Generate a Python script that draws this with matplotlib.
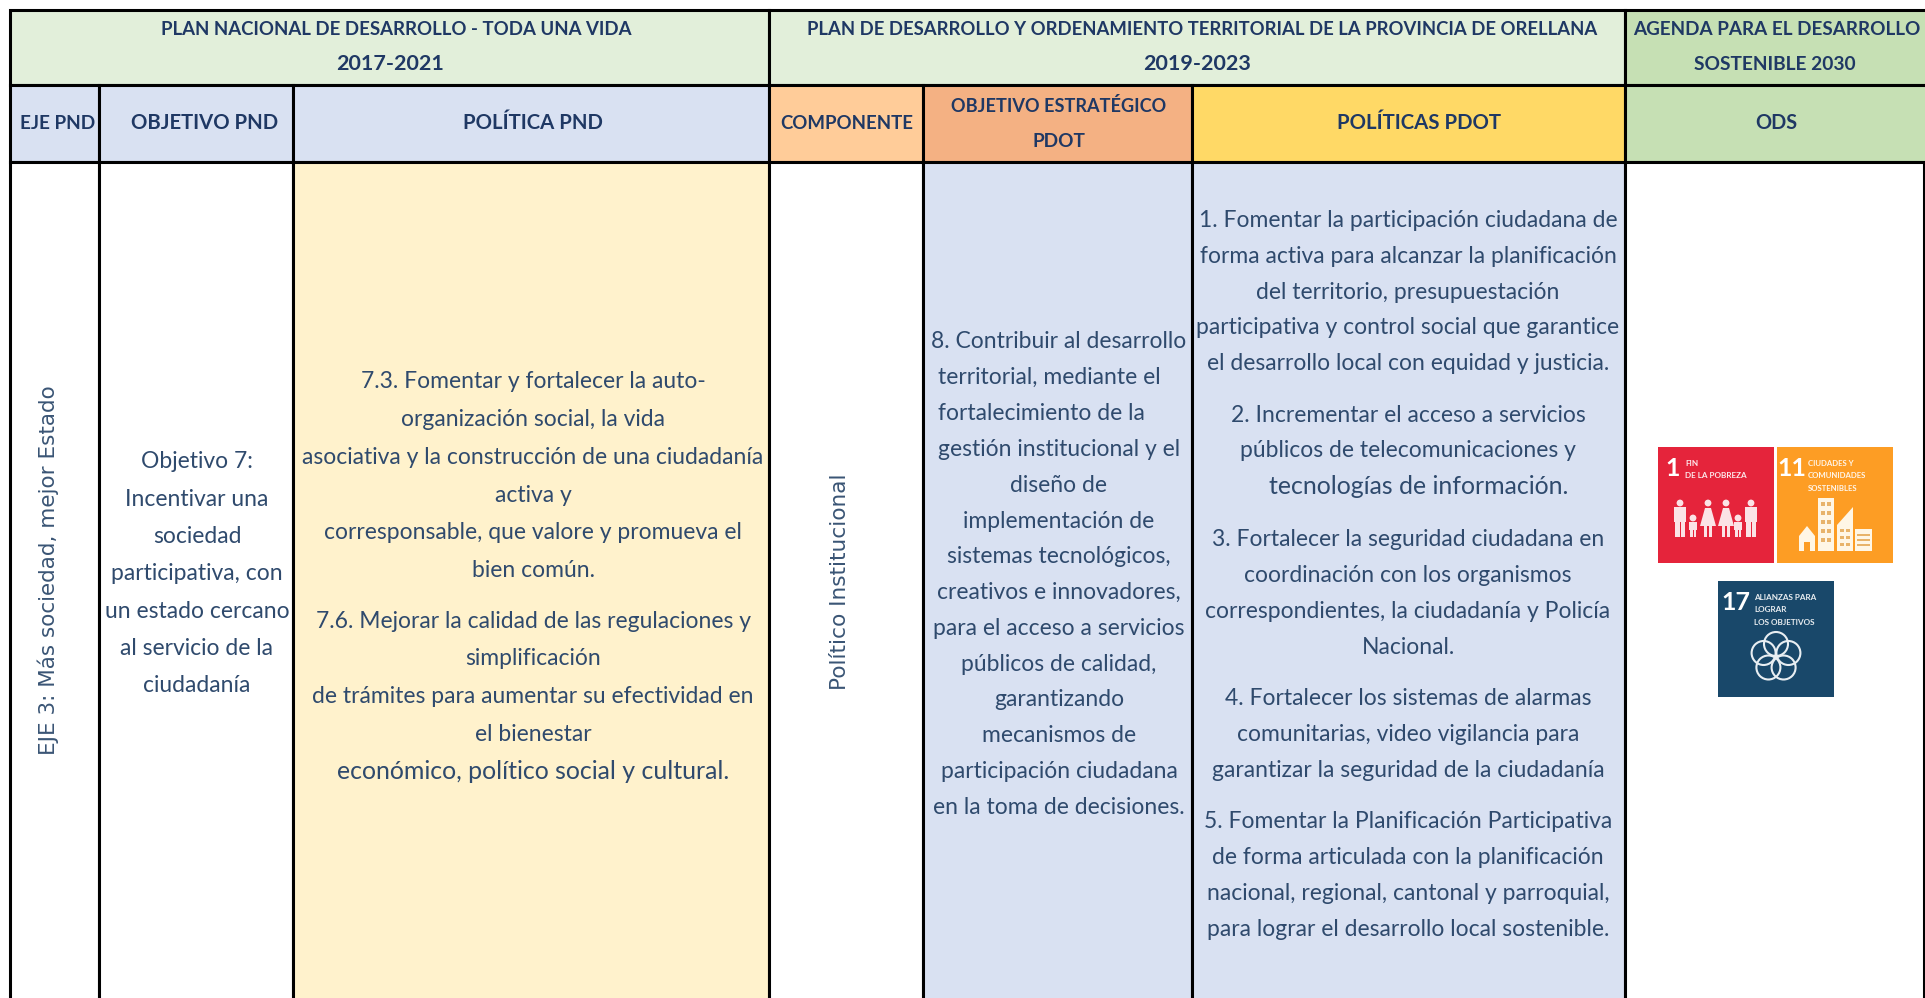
import matplotlib
matplotlib.use('Agg')
import matplotlib.pyplot as plt
from matplotlib.patches import Rectangle, Circle, Polygon
import logging
logging.getLogger('matplotlib.font_manager').setLevel(logging.ERROR)

W, H = 1925, 998
plt.rcParams['font.family'] = ['Lato', 'DejaVu Sans']
NAVY = '#1F3864'
BODY = '#2F4A6D'

col_edges = [10, 99, 293, 769, 923, 1192, 1625, 1925]
row_edges = [10, 85, 162, 998]

group_spans = [(0, 3, '#E2EFDA'), (3, 6, '#E2EFDA'), (6, 7, '#C6E0B4')]
# text, centre x, y, width in pixels
group_lines = [
    ('PLAN NACIONAL DE DESARROLLO - TODA UNA VIDA', 396, 29, 470),
    ('2017-2021', 390, 64, 108),
    ('PLAN DE DESARROLLO Y ORDENAMIENTO TERRITORIAL DE LA PROVINCIA DE ORELLANA', 1202, 29, 789),
    ('2019-2023', 1197, 64, 108),
    ('AGENDA PARA EL DESARROLLO', 1777, 29, 286),
    ('SOSTENIBLE 2030', 1775, 64, 162),
]
sub_lines = [
    ('EJE PND', 58, 123, 75),
    ('OBJETIVO PND', 205, 123, 147),
    ('POLÍTICA PND', 533, 123, 140),
    ('COMPONENTE', 847, 123, 133),
    ('OBJETIVO ESTRATÉGICO', 1059, 106, 214),
    ('PDOT', 1059, 141, 53),
    ('POLÍTICAS PDOT', 1419, 123, 164),
    ('ODS', 1776, 123, 42),
]
sub_colors = ['#D9E1F2', '#D9E1F2', '#D9E1F2', '#FFCC99', '#F4B183', '#FFD966', '#C6E0B4']
body_colors = ['white', 'white', '#FFF2CC', 'white', '#D9E1F2', '#D9E1F2', 'white']

eje = 'EJE 3: Más sociedad, mejor Estado'
componente = 'Político Institucional'
objetivo = ['Objetivo 7:', 'Incentivar una', 'sociedad', 'participativa, con',
            'un estado cercano', 'al servicio de la', 'ciudadanía']
politica_pnd = [
    ['7.3. Fomentar y fortalecer la auto-', 'organización social, la vida',
     'asociativa y la construcción de una ciudadanía', 'activa y',
     'corresponsable, que valore y promueva el', 'bien común.'],
    ['7.6. Mejorar la calidad de las regulaciones y', 'simplificación',
     'de trámites para aumentar su efectividad en', 'el bienestar',
     'económico, político social y cultural.'],
]
politica_y = [382, 621]
objetivo_pdot = ['8. Contribuir al desarrollo', 'territorial, mediante el',
                 'fortalecimiento de la', 'gestión institucional y el', 'diseño de',
                 'implementación de', 'sistemas tecnológicos,', 'creativos e innovadores,',
                 'para el acceso a servicios', 'públicos de calidad,', 'garantizando',
                 'mecanismos de', 'participación ciudadana', 'en la toma de decisiones.']
politicas_pdot = [
    ['1. Fomentar la participación ciudadana de', 'forma activa para alcanzar la planificación',
     'del territorio, presupuestación', 'participativa y control social que garantice',
     'el desarrollo local con equidad y justicia.'],
    ['2. Incrementar el acceso a servicios', 'públicos de telecomunicaciones y',
     'tecnologías de información.'],
    ['3. Fortalecer la seguridad ciudadana en', 'coordinación con los organismos',
     'correspondientes, la ciudadanía y Policía', 'Nacional.'],
    ['4. Fortalecer los sistemas de alarmas', 'comunitarias, video vigilancia para',
     'garantizar la seguridad de la ciudadanía'],
    ['5. Fomentar la Planificación Participativa', 'de forma articulada con la planificación',
     'nacional, regional, cantonal y parroquial,', 'para lograr el desarrollo local sostenible.'],
]
politicas_y = [220.5, 415, 540, 698.5, 822]
# lines set wider than the rest: font size, horizontal shift
wide_lines = {'tecnologías de información.': (17.9, 11),
              'económico, político social y cultural.': (17.9, 0)}

fig = plt.figure(figsize=(W / 100, H / 100), dpi=100)
ax = fig.add_axes([0, 0, 1, 1])
ax.set_xlim(0, W)
ax.set_ylim(H, 0)
ax.axis('off')
renderer = fig.canvas.get_renderer()

def fit(t, width, vertical=False):
    bb = t.get_window_extent(renderer)
    cur = bb.height if vertical else bb.width
    t.set_fontsize(t.get_fontsize() * width / cur)
    return t

LW = 2.2
def cell(x0, x1, y0, y1, fc):
    ax.add_patch(Rectangle((x0, y0), x1 - x0, y1 - y0, fc=fc, ec='black', lw=LW, zorder=1))

for a, b, c in group_spans:
    cell(col_edges[a], col_edges[b] + (6 if b == 7 else 0), row_edges[0], row_edges[1], c)
for i in range(7):
    extra = 6 if i == 6 else 0
    cell(col_edges[i], col_edges[i + 1] + extra, row_edges[1], row_edges[2], sub_colors[i])
    cell(col_edges[i], col_edges[i + 1] - (1 if i == 6 else 0), row_edges[2], row_edges[3] + 5, body_colors[i])

for s, xc, y, w in group_lines + sub_lines:
    t = ax.text(xc, y, s, ha='center', va='center', fontsize=17, fontweight='bold',
                color=NAVY, zorder=4)
    fit(t, w)

BS = 16.5
def block(lines, xc, y0, step, left=()):
    y = y0
    for i, ln in enumerate(lines):
        fs, dx = wide_lines.get(ln, (BS, 0))
        if i in left:
            ax.text(938, y, ln, ha='left', va='center', fontsize=fs, color=BODY)
        else:
            ax.text(xc + dx, y, ln, ha='center', va='center', fontsize=fs, color=BODY)
        y += step

t = ax.text(48, 570, eje, rotation=90, ha='center', va='center', fontsize=16, color='#3A5575',
            family='DejaVu Sans')
fit(t, 371, vertical=True)
t = ax.text(840, 582, componente, rotation=90, ha='center', va='center', fontsize=16, color='#3A5575',
            family='DejaVu Sans')
fit(t, 217, vertical=True)

block(objetivo, 197, 462, 37.3)
for para, y in zip(politica_pnd, politica_y):
    block(para, 533, y, 37.7)
block(objetivo_pdot, 1059, 342, 35.8, left=(1, 2, 3))
for para, y in zip(politicas_pdot, politicas_y):
    block(para, 1408, y, 35.8)

# ODS tiles
SIZE = 116
def tile(x, y, c, num, label, numx, labx, numy=22, width=62):
    ax.add_patch(Rectangle((x, y), SIZE, SIZE, fc=c, ec='none', zorder=2))
    ax.text(x + numx, y + numy, num, color='white', fontsize=18, fontweight='bold',
            ha='center', va='center', zorder=3)
    longest = max(label, key=len)
    for i, ln in enumerate(label):
        t = ax.text(x + labx, y + 16 + 12.8 * i, ln, color='white', fontsize=9, fontweight='bold',
                    ha='left', va='center', zorder=3, alpha=.9)
        if ln == longest:
            fit(t, width)
            size = t.get_fontsize()
    for tx in ax.texts[-len(label):]:
        tx.set_fontsize(size)

RED, ORANGE, BLUE = '#E5243B', '#FD9D24', '#19486A'
tile(1658, 447, RED, '1', ['FIN', 'DE LA POBREZA'], 15, 27)
tile(1777, 447, ORANGE, '11', ['CIUDADES Y', 'COMUNIDADES', 'SOSTENIBLES'], 15, 31, width=59)
tile(1718, 581, BLUE, '17', ['ALIANZAS PARA', 'LOGRAR', 'LOS OBJETIVOS'], 18, 36, width=62)

# family pictogram
fam_x = [22, 35, 50, 68, 80, 93]
fam_kind = ['man', 'kid', 'woman', 'woman', 'kid', 'man']
PALE = '#FBE3E6'
for dx, kind in zip(fam_x, fam_kind):
    x, base = 1658 + dx, 447 + 90
    top = base - (37 if kind != 'kid' else 22)
    ax.add_patch(Circle((x, top + 3), 3.4, fc=PALE, ec='none', zorder=3))
    if kind == 'woman':
        ax.add_patch(Polygon([(x - 3, top + 8), (x + 3, top + 8), (x + 8, base - 11), (x - 8, base - 11)],
                             fc=PALE, ec='none', zorder=3))
        ax.add_patch(Rectangle((x - 4, base - 11), 3, 11, fc=PALE, ec='none', zorder=3))
        ax.add_patch(Rectangle((x + 1, base - 11), 3, 11, fc=PALE, ec='none', zorder=3))
    else:
        w = 4 if kind == 'kid' else 6
        ax.add_patch(Rectangle((x - w, top + 7), 2 * w, (base - top - 7) * .5, fc=PALE, ec='none', zorder=3))
        ax.add_patch(Rectangle((x - w + 1, top + 7), w - 1.5, base - top - 7, fc=PALE, ec='none', zorder=3))
        ax.add_patch(Rectangle((x + .5, top + 7), w - 1.5, base - top - 7, fc=PALE, ec='none', zorder=3))

# city pictogram
cx, cy = 1777, 447
CITY = '#FFF6E5'
ax.add_patch(Polygon([(cx + 22, cy + 104), (cx + 22, cy + 89), (cx + 30, cy + 79), (cx + 38, cy + 89), (cx + 38, cy + 104)],
                     fc=CITY, ec='none', zorder=3))
ax.add_patch(Rectangle((cx + 27, cy + 95), 6, 9, fc=ORANGE, ec='none', zorder=4))
ax.add_patch(Rectangle((cx + 41, cy + 51), 16, 53, fc=CITY, ec='none', zorder=3))
ax.add_patch(Polygon([(cx + 60, cy + 104), (cx + 60, cy + 78), (cx + 76, cy + 60), (cx + 76, cy + 104)],
                     fc=CITY, ec='none', zorder=3))
ax.add_patch(Rectangle((cx + 78, cy + 82), 17, 22, fc=CITY, ec='none', zorder=3))
for row in range(5):
    for col in range(2):
        ax.add_patch(Rectangle((cx + 44 + 6 * col, cy + 55 + 9 * row), 3.5, 4, fc='#E8B36A', ec='none', zorder=4))
for row in range(3):
    for col in range(2):
        ax.add_patch(Rectangle((cx + 63 + 6 * col, cy + 82 + 7 * row), 3.5, 3, fc='#E8B36A', ec='none', zorder=4))
    ax.add_patch(Rectangle((cx + 80, cy + 87 + 5 * row), 13, 2, fc='#E8B36A', ec='none', zorder=4))

# wheel pictogram
wx, wy = 1776, 657
for dx, dy in [(0, -13), (12.4, -4), (7.6, 10.5), (-7.6, 10.5), (-12.4, -4)]:
    ax.add_patch(Circle((wx + dx, wy + dy), 12, fc='none', ec='#E8EEF2', lw=1.5, zorder=3))

fig.savefig('out.png', dpi=100)
